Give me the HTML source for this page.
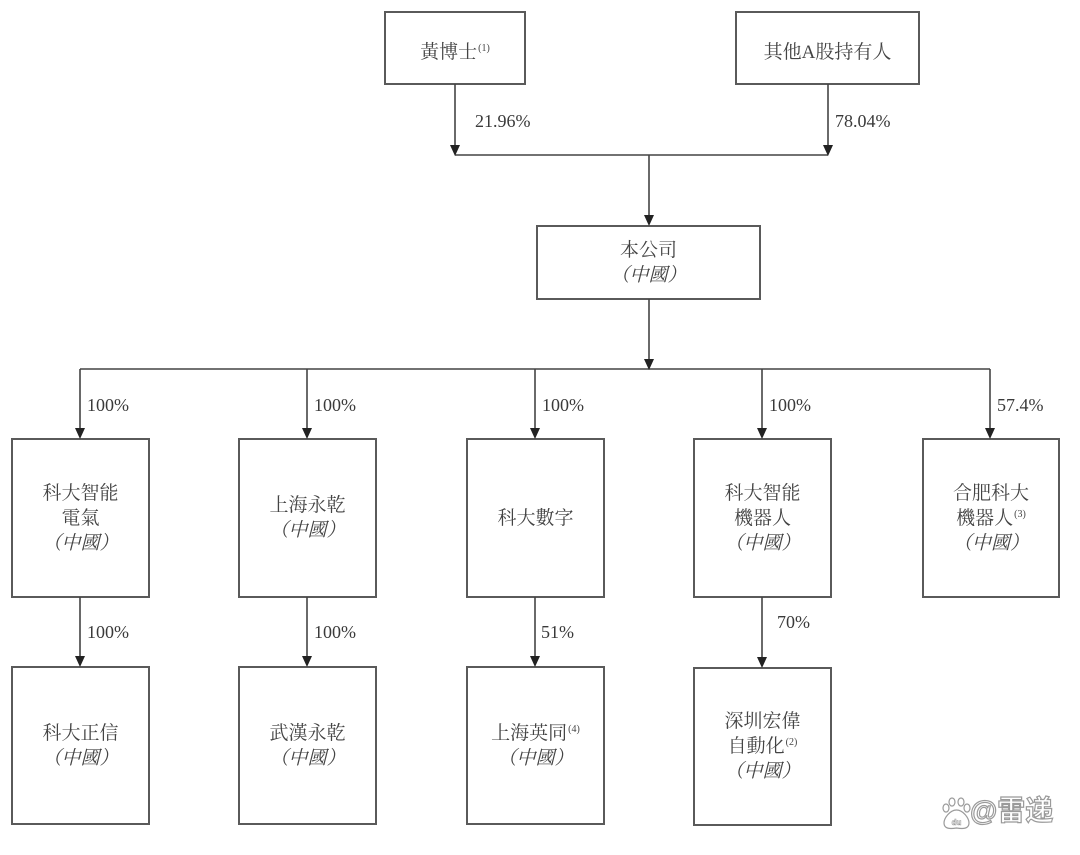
<!DOCTYPE html>
<html>
<head>
<meta charset="utf-8">
<style>
  html,body{margin:0;padding:0;}
  body{width:1080px;height:855px;background:#fff;position:relative;overflow:hidden;}
  .bx{position:absolute;display:flex;flex-direction:column;align-items:center;justify-content:center;text-align:center;
      font-family:"Liberation Serif","Noto Serif CJK SC",serif;font-size:19px;line-height:25px;color:#444;}
  .bx div{white-space:nowrap;}
  .it{font-style:italic;}
  sup{font-family:"Liberation Serif",serif;font-size:10px;line-height:0;vertical-align:7px;margin-left:1px;}
  .pc{position:absolute;font-family:"Liberation Serif",serif;font-size:18px;line-height:20px;color:#3a3a3a;white-space:nowrap;}
  .wm{position:absolute;left:970px;top:795px;font-family:"Liberation Sans","Noto Sans CJK SC",sans-serif;font-size:28px;line-height:32px;
      color:#fff;-webkit-text-stroke:1.2px #9a9a9a;font-weight:bold;white-space:nowrap;}
</style>
</head>
<body>
<svg width="1080" height="855" style="position:absolute;left:0;top:0" xmlns="http://www.w3.org/2000/svg">
  <g fill="none" stroke="#5a5a5a" stroke-width="2">
    <rect x="385" y="12" width="140" height="72"/>
    <rect x="736" y="12" width="183" height="72"/>
    <rect x="537" y="226" width="223" height="73"/>
    <rect x="12" y="439" width="137" height="158"/>
    <rect x="239" y="439" width="137" height="158"/>
    <rect x="467" y="439" width="137" height="158"/>
    <rect x="694" y="439" width="137" height="158"/>
    <rect x="923" y="439" width="136" height="158"/>
    <rect x="12" y="667" width="137" height="157"/>
    <rect x="239" y="667" width="137" height="157"/>
    <rect x="467" y="667" width="137" height="157"/>
    <rect x="694" y="668" width="137" height="157"/>
  </g>
  <g stroke="#444" stroke-width="1.6" fill="none">
    <line x1="455" y1="84" x2="455" y2="150"/>
    <line x1="828" y1="84" x2="828" y2="150"/>
    <line x1="455" y1="155" x2="828" y2="155"/>
    <line x1="649" y1="155" x2="649" y2="220"/>
    <line x1="649" y1="299" x2="649" y2="364"/>
    <line x1="80" y1="369" x2="990" y2="369"/>
    <line x1="80" y1="369" x2="80" y2="434"/>
    <line x1="307" y1="369" x2="307" y2="434"/>
    <line x1="535" y1="369" x2="535" y2="434"/>
    <line x1="762" y1="369" x2="762" y2="434"/>
    <line x1="990" y1="369" x2="990" y2="434"/>
    <line x1="80" y1="597" x2="80" y2="662"/>
    <line x1="307" y1="597" x2="307" y2="662"/>
    <line x1="535" y1="597" x2="535" y2="662"/>
    <line x1="762" y1="597" x2="762" y2="663"/>
  </g>
  <g fill="#222">
    <polygon points="455,156 450,145 460,145"/>
    <polygon points="828,156 823,145 833,145"/>
    <polygon points="649,226 644,215 654,215"/>
    <polygon points="649,370 644,359 654,359"/>
    <polygon points="80,439 75,428 85,428"/>
    <polygon points="307,439 302,428 312,428"/>
    <polygon points="535,439 530,428 540,428"/>
    <polygon points="762,439 757,428 767,428"/>
    <polygon points="990,439 985,428 995,428"/>
    <polygon points="80,667 75,656 85,656"/>
    <polygon points="307,667 302,656 312,656"/>
    <polygon points="535,667 530,656 540,656"/>
    <polygon points="762,668 757,657 767,657"/>
  </g>
  <!-- watermark paw -->
  <g fill="#fff" stroke="#9a9a9a" stroke-width="1.2">
    <ellipse cx="946" cy="808" rx="3" ry="4"/>
    <ellipse cx="952" cy="802" rx="3" ry="4"/>
    <ellipse cx="961" cy="802" rx="3" ry="4"/>
    <ellipse cx="967" cy="808" rx="3" ry="4"/>
    <path d="M956.5,810 C950,810 944,818 944,823 C944,829 950,829 956.5,828 C963,829 969,829 969,823 C969,818 963,810 956.5,810 Z"/>
  </g>
  <text x="956.5" y="825" text-anchor="middle" font-family="Liberation Sans, sans-serif" font-size="8" font-weight="bold" fill="#fff" stroke="#9a9a9a" stroke-width="0.6">du</text>
</svg>

<!-- top boxes -->
<div class="bx" style="left:385px;top:12px;width:140px;height:80px;"><div>黃博士<sup>(1)</sup></div></div>
<div class="bx" style="left:736px;top:12px;width:183px;height:80px;"><div>其他A股持有人</div></div>
<div class="bx" style="left:537px;top:226px;width:223px;height:74px;"><div>本公司</div><div class="it">（中國）</div></div>

<!-- middle row -->
<div class="bx" style="left:12px;top:439px;width:137px;height:158px;"><div>科大智能</div><div>電氣</div><div class="it">（中國）</div></div>
<div class="bx" style="left:239px;top:439px;width:137px;height:158px;"><div>上海永乾</div><div class="it">（中國）</div></div>
<div class="bx" style="left:467px;top:439px;width:137px;height:158px;"><div>科大數字</div></div>
<div class="bx" style="left:694px;top:439px;width:137px;height:158px;"><div>科大智能</div><div>機器人</div><div class="it">（中國）</div></div>
<div class="bx" style="left:923px;top:439px;width:136px;height:158px;"><div>合肥科大</div><div>機器人<sup>(3)</sup></div><div class="it">（中國）</div></div>

<!-- bottom row -->
<div class="bx" style="left:12px;top:667px;width:137px;height:157px;"><div>科大正信</div><div class="it">（中國）</div></div>
<div class="bx" style="left:239px;top:667px;width:137px;height:157px;"><div>武漢永乾</div><div class="it">（中國）</div></div>
<div class="bx" style="left:467px;top:667px;width:137px;height:157px;"><div>上海英同<sup>(4)</sup></div><div class="it">（中國）</div></div>
<div class="bx" style="left:694px;top:668px;width:137px;height:157px;"><div>深圳宏偉</div><div>自動化<sup>(2)</sup></div><div class="it">（中國）</div></div>

<!-- percentages -->
<div class="pc" style="left:475px;top:111px;">21.96%</div>
<div class="pc" style="left:835px;top:111px;">78.04%</div>
<div class="pc" style="left:87px;top:395px;">100%</div>
<div class="pc" style="left:314px;top:395px;">100%</div>
<div class="pc" style="left:542px;top:395px;">100%</div>
<div class="pc" style="left:769px;top:395px;">100%</div>
<div class="pc" style="left:997px;top:395px;">57.4%</div>
<div class="pc" style="left:87px;top:622px;">100%</div>
<div class="pc" style="left:314px;top:622px;">100%</div>
<div class="pc" style="left:541px;top:622px;">51%</div>
<div class="pc" style="left:777px;top:612px;">70%</div>

<!-- watermark text -->
<div class="wm">@雷递</div>
</body>
</html>
